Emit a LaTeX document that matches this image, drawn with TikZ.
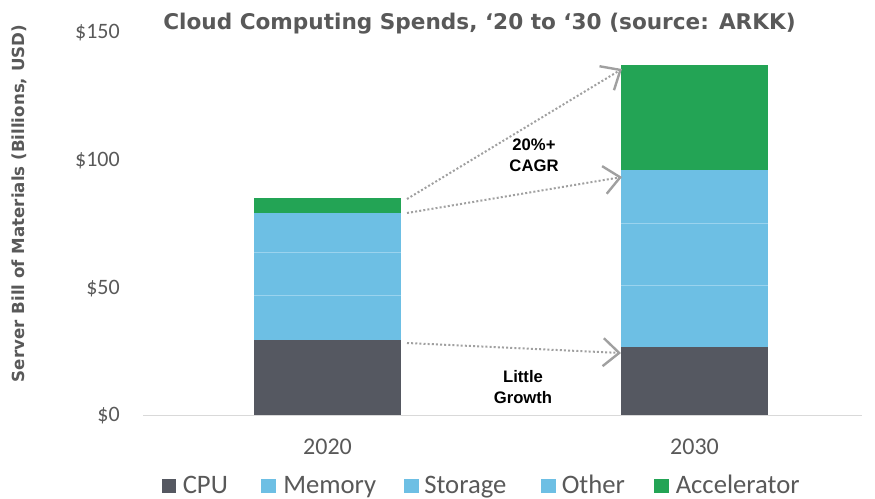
\documentclass[tikz,border=0pt]{standalone}
\usepackage{fontspec}
\setmainfont{Liberation Sans}
\newfontfamily\narrowfont{Carlito}
\newfontfamily\widefont{DejaVu Sans}
\usetikzlibrary{arrows.meta}

\definecolor{labelgray}{HTML}{595959}
\definecolor{cpucol}{HTML}{555861}
\definecolor{bluecol}{HTML}{6DBFE4}
\definecolor{greencol}{HTML}{23A455}
\definecolor{sepcol}{HTML}{9AD3EE}
\definecolor{axiscol}{HTML}{D9D9D9}
\definecolor{arrowcol}{HTML}{A0A0A0}

\tikzset{
  ticklabel/.style={font=\narrowfont\fontsize{16.5pt}{18pt}\selectfont, text=labelgray, anchor=east, inner sep=0pt},
  catlabel/.style={font=\narrowfont\fontsize{18pt}{20pt}\selectfont, text=labelgray, inner sep=0pt},
  legtext/.style={font=\narrowfont\fontsize{20pt}{22pt}\selectfont, text=labelgray, anchor=base west, inner sep=0pt},
  legbox/.style={minimum width=10.9pt, minimum height=10.9pt, inner sep=0pt, draw=none, anchor=west},
  note/.style={font=\bfseries\fontsize{12.5pt}{16pt}\selectfont, text=black, align=center, inner sep=0pt},
  growth/.style={draw=arrowcol, line width=1.5pt, dash pattern=on 1.5pt off 1.6pt,
    -{Straight Barb[length=12pt,width=21pt,line width=1.8pt]}},
  separator/.style={draw=sepcol, line width=0.8pt}
}

\begin{document}
\begin{tikzpicture}[x=0.75pt,y=-0.75pt]
\useasboundingbox (0,0) rectangle (875,499);

% title
\node[font=\widefont\bfseries\fontsize{16.2pt}{18pt}\selectfont, text=labelgray, inner sep=0pt, anchor=base] (title) at (479.5,29.5) {Cloud Computing Spends, ‘20 to ‘30 (source: ARKK)};

% y axis title
\node[font=\widefont\bfseries\fontsize{12.5pt}{15pt}\selectfont, text=labelgray, rotate=90, inner sep=0pt] (ytitle) at (19,203.5) {Server Bill of Materials (Billions, USD)};

% tick labels
\node[ticklabel] (t150) at (120,32.5) {\$150};
\node[ticklabel] (t100) at (120,160.5) {\$100};
\node[ticklabel] (t50)  at (120,288.5) {\$50};
\node[ticklabel] (t0)   at (120,416) {\$0};

% 2020 bar
\fill[greencol] (254,198) rectangle (401,213.3);
\fill[bluecol]  (254,213.3) rectangle (401,339.7);
\fill[cpucol]   (254,339.7) rectangle (401,415);
\draw[separator] (254,252.3) -- (401,252.3);
\draw[separator] (254,295.7) -- (401,295.7);

% 2030 bar
\fill[greencol] (621,65) rectangle (768,170);
\fill[bluecol]  (621,170) rectangle (768,346.7);
\fill[cpucol]   (621,346.7) rectangle (768,415);
\draw[separator] (621,223.3) -- (768,223.3);
\draw[separator] (621,285.3) -- (768,285.3);

% category axis
\draw[axiscol, line width=1.2pt] (143,415.5) -- (862,415.5);
\node[catlabel] (c2020) at (327.5,447) {2020};
\node[catlabel] (c2030) at (694.5,447) {2030};

% growth arrows
\coordinate (a1s) at (407,199);
\coordinate (a1e) at (622,69);
\coordinate (a2s) at (407,213);
\coordinate (a2e) at (622,177);
\coordinate (a3s) at (407,343);
\coordinate (a3e) at (621,353);
\draw[growth] (a1s) -- (a1e);
\draw[growth] (a2s) -- (a2e);
\draw[growth] (a3s) -- (a3e);

\node[note] (cagr) at (534,155) {20\%+\\CAGR};
\node[note] (little) at (523,387) {Little\\Growth};

% legend
\node[legbox, fill=cpucol]   (l1) at (161.5,486) {};
\node[legtext] (l1t) at (182.5,493) {CPU};
\node[legbox, fill=bluecol]  (l2) at (261,486) {};
\node[legtext] (l2t) at (283,493) {Memory};
\node[legbox, fill=bluecol]  (l3) at (404,486) {};
\node[legtext] (l3t) at (424,493) {Storage};
\node[legbox, fill=bluecol]  (l4) at (541,486) {};
\node[legtext] (l4t) at (561.5,493) {Other};
\node[legbox, fill=greencol] (l5) at (654,486) {};
\node[legtext] (l5t) at (675.5,493) {Accelerator};
\end{tikzpicture}
\end{document}
